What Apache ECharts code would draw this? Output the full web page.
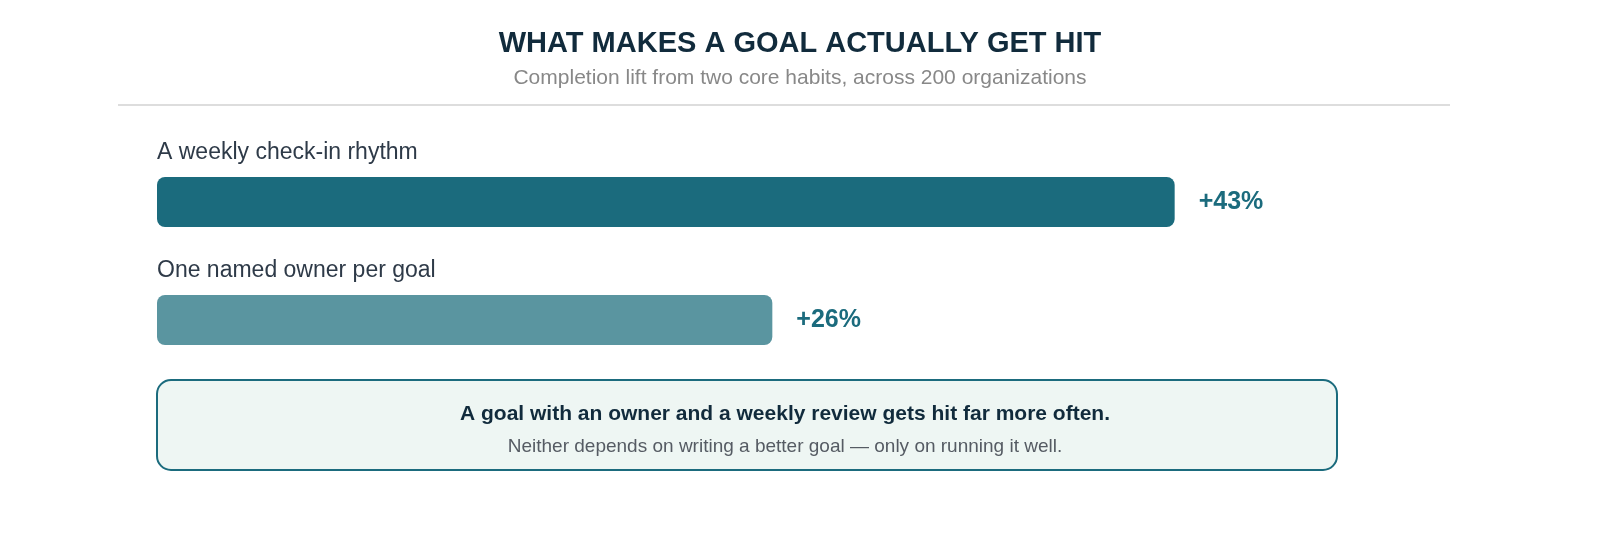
<!DOCTYPE html>
<html><head><meta charset="utf-8">
<script src="https://cdn.jsdelivr.net/npm/echarts@6/dist/echarts.min.js"></script>
<style>html,body{margin:0;padding:0;background:#fff}#c{width:1600px;height:540px}</style>
</head><body><div id="c"></div>
<script>
const categories = ["A weekly check-in rhythm", "One named owner per goal"];
const values = [43, 26];
const valueLabels = ["+43%", "+26%"];
const barColors = ["#1b6b7d", "#5a95a0"];
const titleText = "WHAT MAKES A GOAL ACTUALLY GET HIT";
const subtitleText = "Completion lift from two core habits, across 200 organizations";
const calloutMain = "A goal with an owner and a weekly review gets hit far more often.";
const calloutSub = "Neither depends on writing a better goal \u2014 only on running it well.";

const chart = echarts.init(document.getElementById('c'));
chart.setOption({
  animation: false,
  title: {
    text: titleText, subtext: subtitleText, left: 'center', top: 24, itemGap: 10,
    textStyle: {fontFamily: 'Liberation Sans, Arial', fontSize: 29, fontWeight: 'bold', color: '#112b3c'},
    subtextStyle: {fontFamily: 'Liberation Sans, Arial', fontSize: 21, color: '#888888'}
  },
  grid: {left: 157, right: 23, top: 143, height: 236},
  xAxis: {type: 'value', min: 0, max: 60, show: false},
  yAxis: {type: 'category', data: categories, inverse: true, show: false},
  series: [
    {
      type: 'bar', barWidth: 50, barGap: '-100%',
      data: values.map((v, i) => ({value: v, itemStyle: {color: barColors[i], borderRadius: 8}})),
      label: {show: true, position: 'right', distance: 24, formatter: p => valueLabels[p.dataIndex],
        fontFamily: 'Liberation Sans, Arial', fontSize: 25, fontWeight: 'bold', color: '#1b6b7d'}
    },
    {
      type: 'bar', barWidth: 50, barGap: '-100%', silent: true,
      data: values.map(v => ({value: v, itemStyle: {color: 'rgba(0,0,0,0)'}})),
      label: {show: true, position: [0, -36], formatter: p => categories[p.dataIndex],
        fontFamily: 'Liberation Sans, Arial', fontSize: 23, color: '#2e3a48'}
    }
  ],
  graphic: [
    {type: 'line', shape: {x1: 118, y1: 105, x2: 1450, y2: 105}, style: {stroke: '#dddddd', lineWidth: 2}},
    {type: 'rect', shape: {x: 157, y: 380, width: 1180, height: 90, r: 14},
      style: {fill: '#eef6f3', stroke: '#1b6b7d', lineWidth: 2}},
    {type: 'text', x: 785, y: 414, style: {text: calloutMain, align: 'center', verticalAlign: 'middle',
      font: 'bold 21px "Liberation Sans", Arial', fill: '#112b3c'}},
    {type: 'text', x: 785, y: 447, style: {text: calloutSub, align: 'center', verticalAlign: 'middle',
      font: '19px "Liberation Sans", Arial', fill: '#555b63'}}
  ]
});
</script></body></html>
